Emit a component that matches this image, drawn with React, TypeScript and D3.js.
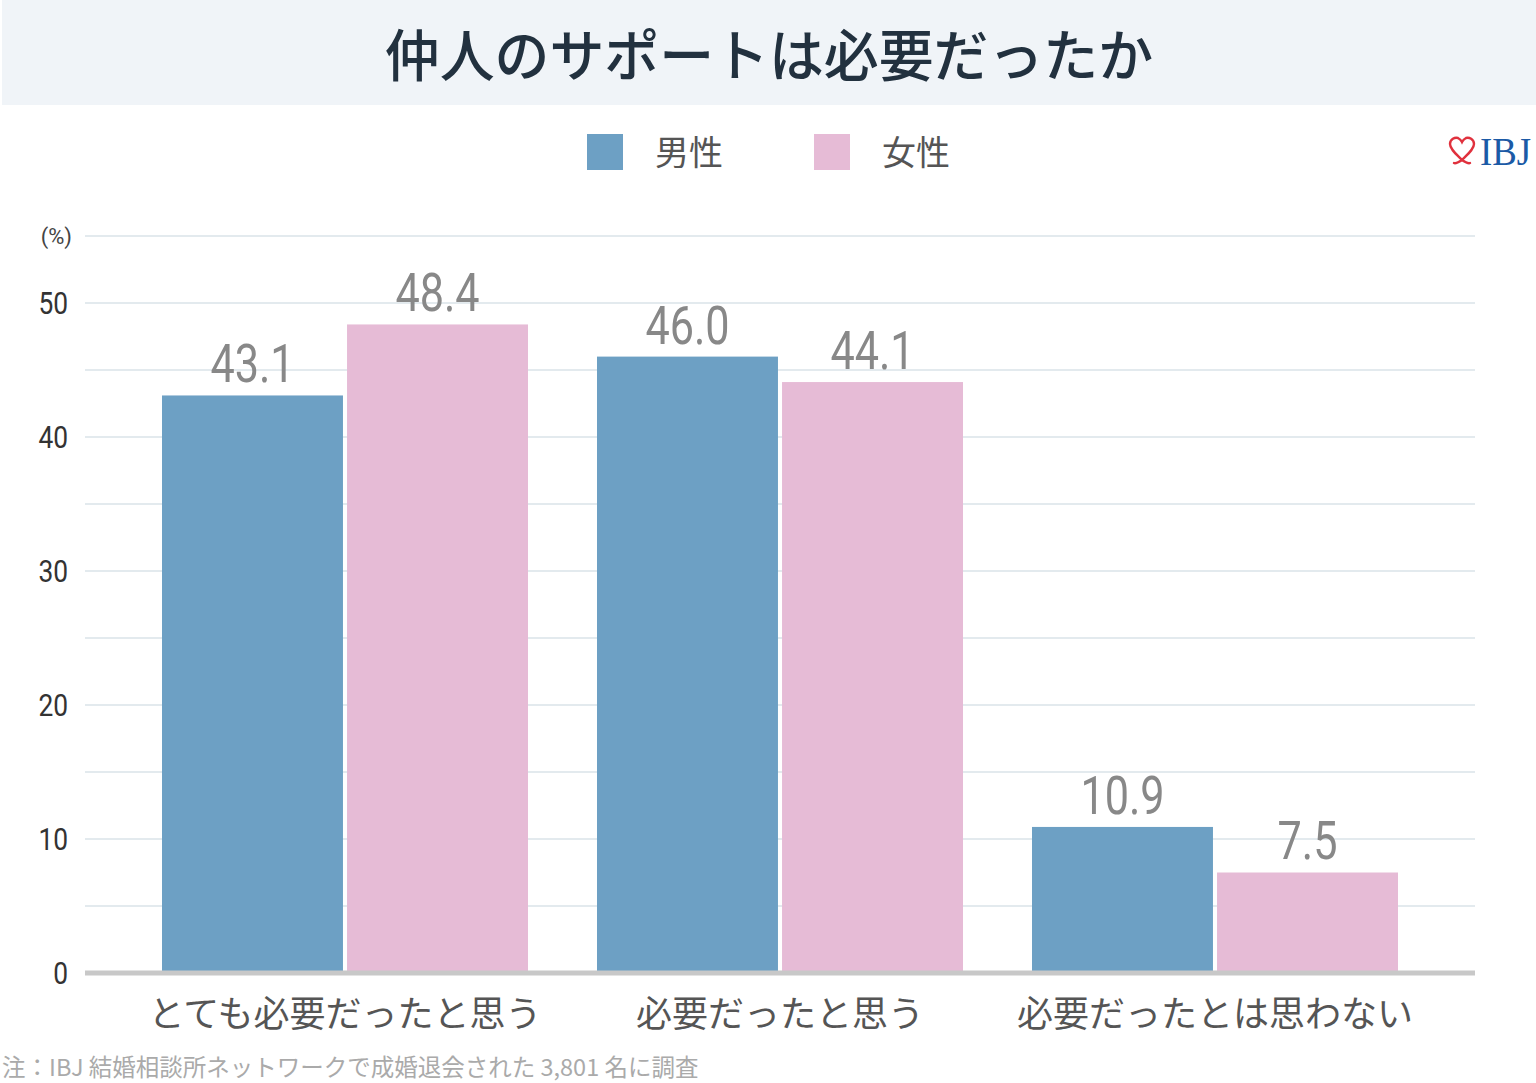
import React from 'react';
import * as d3 from 'd3';

const title = '仲人のサポートは必要だったか';
const categories = ['とても必要だったと思う', '必要だったと思う', '必要だったとは思わない'];
const genders = ['男性', '女性'];
const maleValues = [43.1, 46.0, 10.9];
const femaleValues = [48.4, 44.1, 7.5];
const yTicks = [0, 10, 20, 30, 40, 50];
const gridTicks = [5, 10, 15, 20, 25, 30, 35, 40, 45, 50, 55];
const note = '注：IBJ 結婚相談所ネットワークで成婚退会された 3,801 名に調査';

const colors = { 男性: '#6da0c4', 女性: '#e6bbd6' };
const W = 1536;
const H = 1083;
const jp = '"Noto Sans CJK JP", "Noto Sans", sans-serif';
const num = 'Roboto, "Noto Sans", sans-serif';

export default function App() {
  const y = d3.scaleLinear().domain([0, 50]).range([973, 303]);
  const x0 = d3.scaleBand().domain(categories).range([127.5, 1432.5]).paddingInner(0.1586).paddingOuter(0.0793);
  const x1 = d3.scaleBand().domain(genders).range([0, x0.bandwidth()]).paddingInner(0.022);

  const rows = categories.map((c, i) => ({ c, vals: [maleValues[i], femaleValues[i]] }));

  return (
    <div style={{ position: 'absolute', left: 0, top: 0 }}>
      <svg width={W} height={H} style={{ display: 'block', background: '#fff' }}>
        {/* header */}
        <rect x={2} y={0} width={W - 2} height={105} fill="#f0f4f8" />
        <text x={769} y={76} textAnchor="middle" fontFamily={jp} fontWeight={500} fontSize={56}
          fill="#22313f" transform="translate(769,0) scale(0.98,1) translate(-769,0)">{title}</text>

        {/* legend */}
        {genders.map((g, i) => (
          <g key={g} transform={`translate(${587 + i * 227},134)`}>
            <rect width={36} height={36} fill={colors[g]} />
            <text x={68} y={31} fontFamily={jp} fontSize={34} fill="#555">{g}</text>
          </g>
        ))}

        {/* logo */}
        <g transform="translate(1462,150)">
          <path d="M0,10 C-6,4 -12,-1 -12,-6 C-12,-11 -7,-13 -4,-12 C-2,-11 -1,-10 0,-8 C1,-10 2,-11 4,-12 C7,-13 12,-11 12,-6 C12,-1 6,4 0,10 M0,10 C-3,12 -6,14 -8,13 M0,10 C3,12 6,14 8,13"
            fill="none" stroke="#e0313d" strokeWidth={2.4} strokeLinecap="round" />
        </g>
        <text x={1480} y={165} fontFamily='"Liberation Serif", serif' fontSize={40} fill="#1b5aa6"
          transform="translate(1480,0) scale(0.92,1) translate(-1480,0)">IBJ</text>

        {/* grid */}
        {gridTicks.map(t => (
          <line key={t} x1={85} x2={1475} y1={y(t)} y2={y(t)} stroke="#e3eaee" strokeWidth={2} />
        ))}
        <text x={72} y={y(55) + 8} textAnchor="end" fontFamily={num} fontSize={22} fill="#444">(%)</text>
        {yTicks.map(t => (
          <text key={t} x={68} y={y(t) + 11} textAnchor="end" fontFamily={num} fontSize={31} fill="#333"
            transform={`translate(68,0) scale(0.85,1) translate(-68,0)`}>{t}</text>
        ))}

        {/* bars */}
        {rows.map(r => (
          <g key={r.c} transform={`translate(${x0(r.c)},0)`}>
            {genders.map((g, j) => {
              const v = r.vals[j];
              const bx = x1(g)!;
              const cx = bx + x1.bandwidth() / 2;
              return (
                <g key={g}>
                  <rect x={bx} y={y(v)} width={x1.bandwidth()} height={y(0) - y(v)} fill={colors[g]} />
                  <text x={cx} y={y(v) - 13} textAnchor="middle" fontFamily={num} fontSize={54} fill="#888"
                    transform={`translate(${cx},0) scale(0.8,1) translate(${-cx},0)`}>{v.toFixed(1)}</text>
                </g>
              );
            })}
          </g>
        ))}

        <line x1={85} x2={1475} y1={y(0)} y2={y(0)} stroke="#c8c8c8" strokeWidth={5} />

        {categories.map(c => (
          <text key={c} x={x0(c)! + x0.bandwidth() / 2} y={1027} textAnchor="middle" fontFamily={jp}
            fontSize={36} fill="#555">{c}</text>
        ))}

        <text x={2} y={1076} fontFamily={jp} fontSize={23.5} fill="#aaa">{note}</text>
      </svg>
    </div>
  );
}
